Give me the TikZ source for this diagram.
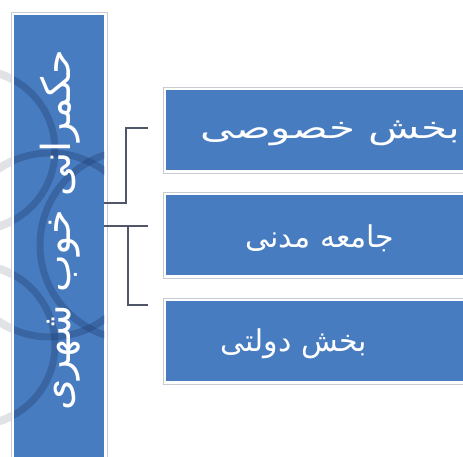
\documentclass[tikz,border=0pt]{standalone}
\usepackage{fontspec}
\newfontfamily\arabicfont[Script=Arabic]{DejaVu Sans}
\TeXXeTstate=1
\definecolor{boxblue}{RGB}{72,124,192}
\definecolor{linkgray}{RGB}{78,86,104}
\definecolor{edgegray}{RGB}{200,204,210}
\definecolor{ringnavy}{RGB}{30,60,110}
\definecolor{ringgray}{RGB}{224,226,230}

\begin{document}
\begin{tikzpicture}
[
x=1pt, y=-1pt,
bluebox/.style={draw=none, fill=boxblue, inner sep=0, anchor=north west},
boxedge/.style={draw=edgegray, line width=0.7pt},
boxtext/.style={text=white, inner sep=0, font=\arabicfont\fontsize{30}{34}\selectfont},
link/.style={draw=linkgray, line width=2.6pt}
]
\useasboundingbox[fill=white] (0,0) rectangle (463,457);

% faint rings outside the column
\begin{scope}
\clip (0,0) rectangle (12,457) (106,200) rectangle (124,260);
\foreach \cx/\cy/\r in {50/245/92, 135/245/95, -25/150/80, -25/345/80}
  \draw[ringgray, line width=8pt] (\cx,\cy) circle (\r);
\end{scope}

% left column
\node[bluebox, minimum width=90pt, minimum height=460pt] (hk) at (14,15) {};
\draw[boxedge] ([shift={(-3,-3)}]hk.north west) rectangle ([shift={(3,3)}]hk.south east);

% darker rings inside the column
\begin{scope}
\clip (hk.north west) rectangle (hk.south east);
\foreach \cx/\cy/\r in {50/245/92, 135/245/95, -25/150/80, -25/345/80}
  \draw[ringnavy, opacity=0.35, line width=7pt] (\cx,\cy) circle (\r);
\end{scope}

\node[boxtext, font=\arabicfont\fontsize{40}{44}\selectfont, rotate=90] (hkt) at (60,230) {\beginR حکمرانی خوب شهری\endR};

% three parts
\foreach \n/\y in {b1/90, b2/195, b3/301} {
  \node[bluebox, minimum width=310pt, minimum height=80pt] (\n) at (166,\y) {};
  \draw[boxedge] ([shift={(-3,-3)}]\n.north west) rectangle ([shift={(3,3)}]\n.south east);
}

\node[boxtext, anchor=east, xscale=1.4] (t1) at (461,133) {\beginR بخش خصوصی\endR};
\node[boxtext] (t2) at (320,238) {\beginR جامعه مدنی\endR};
\node[boxtext] (t3) at (294,344) {\beginR بخش دولتی\endR};

% brackets
\coordinate (p1) at (148,128);
\coordinate (p2) at (148,226);
\coordinate (p3) at (148,305);
\draw[link] (hk.east |- 0,203) -| (126,128) -- (p1);
\draw[link] (hk.east |- 0,226) -- (p2);
\draw[link] (128,226) |- (p3);
\end{tikzpicture}
\end{document}
